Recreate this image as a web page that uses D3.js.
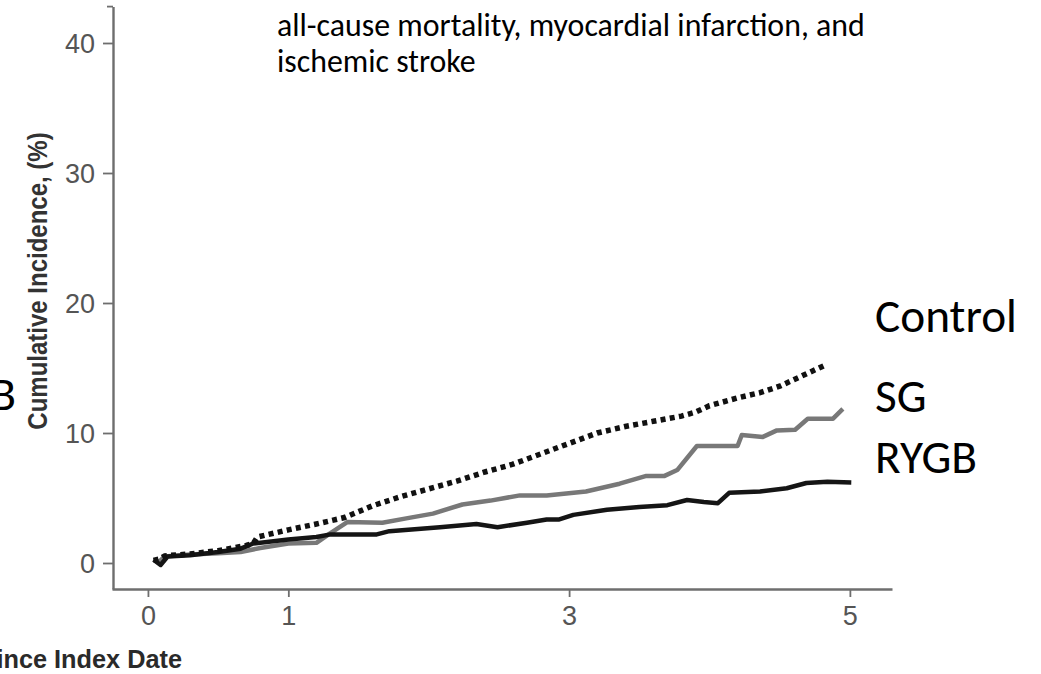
<!DOCTYPE html>
<html>
<head>
<meta charset="utf-8">
<script src="https://cdn.jsdelivr.net/npm/d3@7"></script>
<style>
  html, body { margin: 0; padding: 0; background: #fff; }
  svg { display: block; }
</style>
</head>
<body>
<svg id="chart" width="1041" height="674"></svg>
<script>
// Cumulative incidence (%) by years since index date
const xTicks = [0, 1, 3, 5];
const yTicks = [0, 10, 20, 30, 40];

const controlYears = [0.04, 0.08, 0.12, 0.3, 0.5, 0.7, 0.75, 0.78, 0.9, 1.0, 1.2, 1.4, 1.6, 1.8, 2.0, 2.2, 2.4, 2.6, 2.8, 3.0, 3.2, 3.4, 3.6, 3.8, 3.9, 4.0, 4.2, 4.36, 4.5, 4.6, 4.7, 4.82];
const controlRisk  = [0.2, 0.3, 0.55, 0.7, 0.95, 1.35, 1.5, 2.0, 2.3, 2.55, 3.0, 3.5, 4.4, 5.1, 5.7, 6.3, 7.0, 7.6, 8.4, 9.2, 10.0, 10.5, 10.9, 11.3, 11.6, 12.1, 12.7, 13.1, 13.6, 14.1, 14.6, 15.2];

const sgYears = [0.04, 0.08, 0.12, 0.3, 0.5, 0.66, 0.8, 1.0, 1.2, 1.3, 1.42, 1.67, 1.85, 2.03, 2.24, 2.44, 2.65, 2.84, 3.12, 3.36, 3.55, 3.68, 3.77, 3.91, 4.2, 4.23, 4.38, 4.48, 4.61, 4.7, 4.88, 4.95];
const sgRisk  = [0.2, 0.1, 0.5, 0.65, 0.75, 0.85, 1.15, 1.5, 1.55, 2.3, 3.15, 3.1, 3.45, 3.8, 4.5, 4.8, 5.2, 5.2, 5.5, 6.1, 6.7, 6.7, 7.15, 9.0, 9.0, 9.85, 9.7, 10.2, 10.25, 11.1, 11.1, 11.85];

const rygbYears = [0.04, 0.09, 0.14, 0.3, 0.5, 0.66, 0.75, 1.0, 1.2, 1.3, 1.63, 1.72, 2.08, 2.34, 2.49, 2.7, 2.84, 2.93, 3.03, 3.27, 3.5, 3.7, 3.84, 3.96, 4.06, 4.14, 4.36, 4.55, 4.69, 4.84, 5.01];
const rygbRisk  = [0.25, -0.15, 0.5, 0.6, 0.85, 1.1, 1.5, 1.8, 2.0, 2.2, 2.2, 2.45, 2.75, 3.0, 2.75, 3.1, 3.35, 3.35, 3.7, 4.1, 4.3, 4.45, 4.85, 4.7, 4.6, 5.4, 5.5, 5.75, 6.15, 6.25, 6.2];

const titleLines = ["all-cause mortality, myocardial infarction, and", "ischemic stroke"];
const groupNames = ["Control", "SG", "RYGB"];

const svg = d3.select("#chart");

const x = d3.scaleLinear().domain([-0.256, 5.3]).range([112, 892]);
const y = d3.scaleLinear().domain([-2, 42.8]).range([589, 6.6]);

const axisColor = "#6e6e6e";
const tickFont = "'Liberation Sans', Arial, Helvetica, sans-serif";
const textFont = "Carlito, Calibri, Lato, 'Open Sans', sans-serif";

// Y axis
const yAxis = svg.append("g")
  .attr("transform", `translate(${x.range()[0] + 1},0)`)
  .call(d3.axisLeft(y).tickValues(yTicks).tickFormat(d3.format("d"))
    .tickSize(10).tickSizeOuter(0).tickPadding(8));
yAxis.select(".domain").attr("stroke", axisColor).attr("stroke-width", 2.4);
yAxis.selectAll(".tick line").attr("stroke", axisColor).attr("stroke-width", 1.8);
yAxis.selectAll(".tick text")
  .attr("fill", "#555").attr("font-family", tickFont).attr("font-size", 27)
  .attr("dy", "0.36em");
// small cap at the top end of the y axis
yAxis.append("line")
  .attr("x1", -6).attr("x2", 0)
  .attr("y1", y.range()[1]).attr("y2", y.range()[1])
  .attr("stroke", axisColor).attr("stroke-width", 1.8);

// X axis
const xAxis = svg.append("g")
  .attr("transform", `translate(0,${y.range()[0]})`)
  .call(d3.axisBottom(x).tickValues(xTicks).tickFormat(d3.format("d"))
    .tickSize(8).tickSizeOuter(0).tickPadding(9));
xAxis.select(".domain").attr("stroke", axisColor).attr("stroke-width", 2.4);
xAxis.selectAll(".tick line").attr("stroke", axisColor).attr("stroke-width", 1.8);
xAxis.selectAll(".tick text")
  .attr("fill", "#555").attr("font-family", tickFont).attr("font-size", 27);
svg.selectAll(".domain").attr("fill", "none");

// Axis titles
svg.append("text")
  .attr("transform", "translate(47,281) rotate(-90) scale(1,1.12)")
  .attr("text-anchor", "middle")
  .attr("font-family", tickFont).attr("font-weight", "bold").attr("font-size", 24)
  .attr("fill", "#333")
  .text("Cumulative Incidence, (%)");

svg.append("text")
  .attr("x", 182).attr("y", 668)
  .attr("text-anchor", "end")
  .attr("font-family", tickFont).attr("font-weight", "bold").attr("font-size", 25.3)
  .attr("fill", "#2a2a2a")
  .text("Years Since Index Date");

// Curves
const line = d3.line().x(d => x(d[0])).y(d => y(d[1]));
const zip = (a, b) => a.map((t, i) => [t, b[i]]);

svg.append("path")
  .datum(zip(sgYears, sgRisk))
  .attr("d", line)
  .attr("fill", "none").attr("stroke", "#787878").attr("stroke-width", 4.5)
  .attr("stroke-linejoin", "round");

svg.append("path")
  .datum(zip(rygbYears, rygbRisk))
  .attr("d", line)
  .attr("fill", "none").attr("stroke", "#151515").attr("stroke-width", 4.5)
  .attr("stroke-linejoin", "round");

svg.append("path")
  .datum(zip(controlYears, controlRisk))
  .attr("d", line)
  .attr("fill", "none").attr("stroke", "#111").attr("stroke-width", 5.5)
  .attr("stroke-dasharray", "5 4.3");

// Size a text so its rendered width equals the target width
function fitWidth(sel, target) {
  const w = sel.node().getComputedTextLength();
  const fs = parseFloat(sel.attr("font-size"));
  const nfs = fs * target / w;
  sel.attr("font-size", nfs);
  return nfs;
}

// Title
const t1 = svg.append("text")
  .attr("x", 277).attr("y", 36)
  .attr("font-family", textFont).attr("font-size", 24).attr("fill", "#000")
  .text(titleLines[0]);
const titleSize = fitWidth(t1, 588);
svg.append("text")
  .attr("x", 277).attr("y", 72)
  .attr("font-family", textFont).attr("font-size", titleSize).attr("fill", "#000")
  .text(titleLines[1]);

// Group labels
const lc = svg.append("text")
  .attr("x", 875).attr("y", 332)
  .attr("font-family", textFont).attr("font-size", 44).attr("fill", "#000")
  .text(groupNames[0]);
const labelSize = fitWidth(lc, 142);
svg.append("text")
  .attr("x", 875).attr("y", 412)
  .attr("font-family", textFont).attr("font-size", labelSize).attr("fill", "#000")
  .text(groupNames[1]);
svg.append("text")
  .attr("x", 875).attr("y", 473)
  .attr("font-family", textFont).attr("font-size", labelSize).attr("fill", "#000")
  .text(groupNames[2]);
// Label from the neighbouring panel, clipped at the left edge
svg.append("text")
  .attr("x", 16).attr("y", 410)
  .attr("text-anchor", "end")
  .attr("font-family", textFont).attr("font-size", labelSize).attr("fill", "#000")
  .text(groupNames[2]);
</script>
</body>
</html>
